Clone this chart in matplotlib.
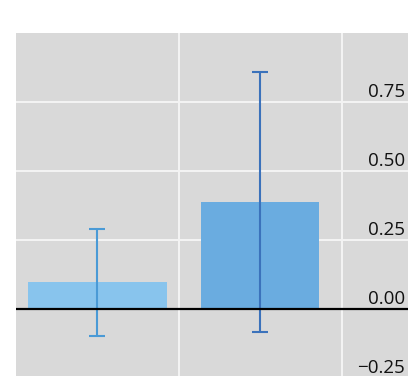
import matplotlib
matplotlib.use("Agg")
import matplotlib.pyplot as plt
import matplotlib.transforms as mtransforms

# data
categories = [0, 1]
values = [0.097, 0.388]
errors = [0.193, 0.471]
bar_widths = [0.853, 0.724]
bar_colors = ["#88c4ed", "#6aace0"]
err_colors = ["#4a9ad6", "#3b72bb"]
yticks = [-0.25, 0.0, 0.25, 0.50, 0.75]
ylabels = ["\u22120.25", "0.00", "0.25", "0.50", "0.75"]

plt.rcParams['font.family'] = ['Open Sans', 'DejaVu Sans']

fig = plt.figure(figsize=(4.11, 3.76), dpi=100)
ax = fig.add_axes([16 / 411, -0.042, 392 / 411, 0.954])
ax.set_facecolor("#d9d9d9")
for s in ax.spines.values():
    s.set_visible(False)

ax.set_xlim(-0.5, 1.905)
ax.set_ylim(-0.30, 1.0)

# grid
ax.set_xticks([0.5, 1.5])
ax.set_yticks([-0.25, 0.25, 0.50, 0.75])
ax.grid(True, color="#f4f4f4", linewidth=1.4, zorder=0)
ax.set_axisbelow(True)
ax.tick_params(length=0, labelleft=False, labelbottom=False)

for x, v, e, w, c, ec in zip(categories, values, errors, bar_widths, bar_colors, err_colors):
    ax.bar(x, v, width=w, color=c, zorder=2)
    ax.errorbar(x, v, yerr=e, fmt="none", ecolor=ec, elinewidth=1.5,
                capsize=5.5, capthick=1.5, zorder=3)

ax.axhline(0, color="black", linewidth=1.6, zorder=4)

# labels sit just above each grid line, inside the plot at the right
trans = mtransforms.offset_copy(ax.get_yaxis_transform(), fig=fig, x=-3, y=5, units="dots")
for v, lab in zip(yticks, ylabels):
    ax.text(1.0, v, lab, transform=trans, ha="right", va="baseline",
            fontsize=13.5, color="#111111", zorder=5)

fig.savefig("out.png", dpi=100)
